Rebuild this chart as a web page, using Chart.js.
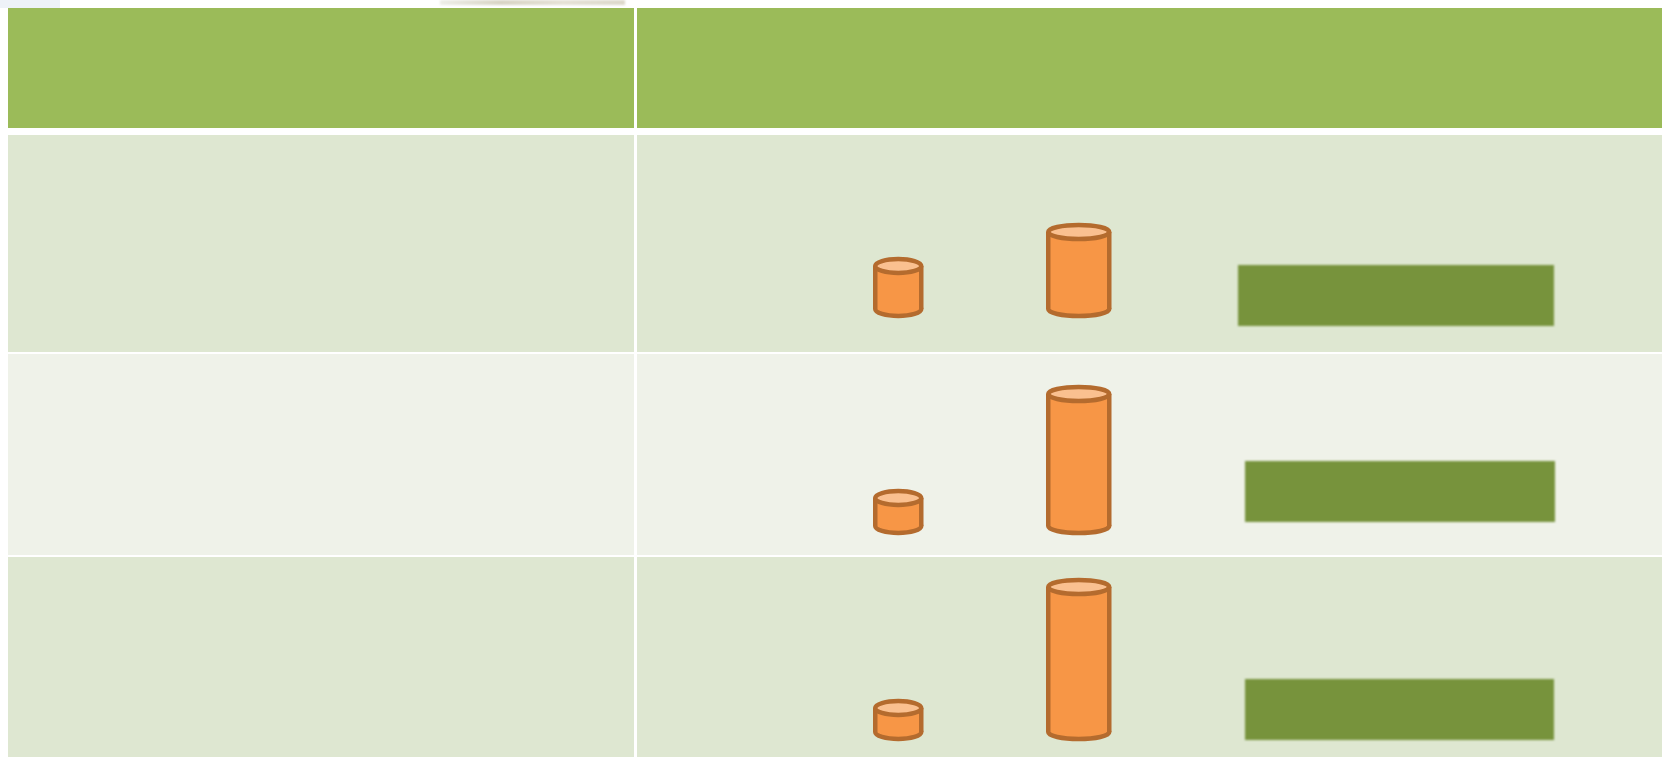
<!DOCTYPE html>
<html>
<head>
<meta charset="utf-8">
<script src="https://cdn.jsdelivr.net/npm/chart.js@4.4.1/dist/chart.umd.min.js"></script>
<style>
  html, body { margin: 0; padding: 0; background: #fff; width: 1662px; height: 757px; overflow: hidden; }
  .cell { position: absolute; }
  .hdr { background: #9bbb59; }
  .odd { background: #dee7d1; }
  .even { background: #eff2e9; }
  .strip { position: absolute; left: 440px; top: 0; width: 185px; height: 5px;
           background: linear-gradient(90deg, #eeeee8, #d8d4c4, #e6e2d6, #dcd8ca); filter: blur(1px); }
  .tint { position: absolute; left: 0; top: 0; width: 60px; height: 8px; background: #eef2f8; }
  .label { position: absolute; background: #77933c; filter: blur(1.2px); }
  canvas { position: absolute; }
</style>
</head>
<body>
<div class="tint"></div>
<div class="strip"></div>
<div id="table"></div>

<script>
// categories for each row: small and large cylinder
const categories = ["Small", "Large"];
// cylinder heights per row
const row1Values = [43, 77];
const row2Values = [28, 132];
const row3Values = [24, 145];
const rowValues = [row1Values, row2Values, row3Values];

// table layout
const leftX = 8, leftW = 626, rightX = 637, rightW = 1025;
const headerTop = 8, headerH = 120;
const rowTops = [135, 354, 557];
const rowHeights = [217, 201, 200];
const rowClasses = ["odd", "even", "odd"];
const baseOffsets = [43, 29, 25];
const labelBoxes = [
    {left: 1238, top: 130, w: 316, h: 61},
    {left: 1245, top: 107, w: 310, h: 61},
    {left: 1245, top: 122, w: 309, h: 61}
];

// cylinder styles
const cylWidths = [46, 61];
const cylRy = 7;
const cylFill = "#f79646";
const cylTop = "#fac090";
const cylStroke = "#b46b2e";

const table = document.getElementById("table");

function addCell(x, y, w, h, cls) {
    let d = document.createElement("div");
    d.className = "cell " + cls;
    d.style.left = x + "px";
    d.style.top = y + "px";
    d.style.width = w + "px";
    d.style.height = h + "px";
    table.appendChild(d);
    return d;
}

addCell(leftX, headerTop, leftW, headerH, "hdr");
addCell(rightX, headerTop, rightW + 10, headerH, "hdr");

const cylinderPlugin = {
    id: "cylinders",
    afterDatasetsDraw(chart) {
        const ctx = chart.ctx;
        const meta = chart.getDatasetMeta(0);
        meta.data.forEach(function (bar, i) {
            const w = cylWidths[i];
            const x = bar.x, top = bar.y, base = bar.base;
            ctx.save();
            ctx.lineWidth = 4.5;
            ctx.strokeStyle = cylStroke;
            // bottom ellipse
            ctx.beginPath();
            ctx.ellipse(x, base, w / 2, cylRy, 0, 0, Math.PI * 2);
            ctx.fillStyle = cylFill;
            ctx.fill();
            ctx.stroke();
            // body
            ctx.fillStyle = cylFill;
            ctx.fillRect(x - w / 2, top, w, base - top);
            ctx.beginPath();
            ctx.moveTo(x - w / 2, top);
            ctx.lineTo(x - w / 2, base);
            ctx.moveTo(x + w / 2, top);
            ctx.lineTo(x + w / 2, base);
            ctx.stroke();
            // top ellipse
            ctx.beginPath();
            ctx.ellipse(x, top, w / 2, cylRy, 0, 0, Math.PI * 2);
            ctx.fillStyle = cylTop;
            ctx.fill();
            ctx.stroke();
            ctx.restore();
        });
    }
};

rowValues.forEach(function (vals, r) {
    addCell(leftX, rowTops[r], leftW, rowHeights[r], rowClasses[r]);
    let right = addCell(rightX, rowTops[r], rightW + 10, rowHeights[r], rowClasses[r]);

    let canvas = document.createElement("canvas");
    canvas.width = rightW;
    canvas.height = rowHeights[r];
    canvas.style.left = "0px";
    canvas.style.top = "0px";
    right.appendChild(canvas);

    let box = labelBoxes[r];
    let lab = document.createElement("div");
    lab.className = "label";
    lab.style.left = (box.left - rightX) + "px";
    lab.style.top = box.top + "px";
    lab.style.width = box.w + "px";
    lab.style.height = box.h + "px";
    right.appendChild(lab);

    new Chart(canvas, {
        type: "bar",
        data: {
            labels: categories,
            datasets: [{
                data: vals,
                backgroundColor: "rgba(0,0,0,0)",
                borderWidth: 0
            }]
        },
        options: {
            responsive: false,
            animation: false,
            layout: { padding: { left: 171, right: 493, top: 0, bottom: baseOffsets[r] } },
            plugins: { legend: { display: false }, tooltip: { enabled: false } },
            scales: {
                x: { display: false },
                y: { display: false, min: 0, max: rowHeights[r] - baseOffsets[r] }
            }
        },
        plugins: [cylinderPlugin]
    });
});
</script>
</body>
</html>
